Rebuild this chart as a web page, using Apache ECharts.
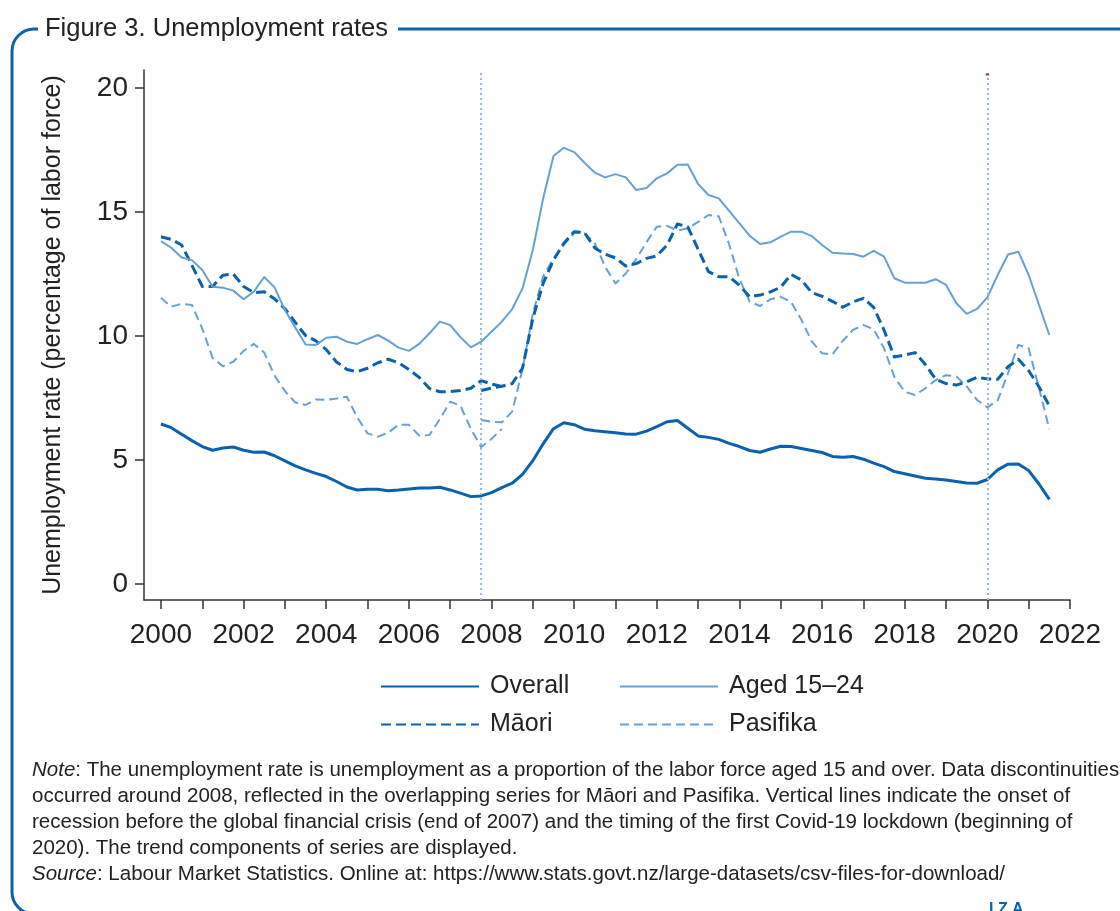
<!DOCTYPE html>
<html>
<head>
<meta charset="utf-8">
<title>Figure 3. Unemployment rates</title>
<script src="https://cdn.jsdelivr.net/npm/echarts@6/dist/echarts.min.js"></script>
<style>
  html, body { margin: 0; padding: 0; background: #fff; }
  #chart { width: 1120px; height: 911px; }
</style>
</head>
<body>
<div id="chart"></div>
<script>
// Quarterly trend series, first observation 2000 Q1
const startYear = 2000;
const xTicks = [2000,2001,2002,2003,2004,2005,2006,2007,2008,2009,2010,2011,2012,2013,2014,2015,2016,2017,2018,2019,2020,2021,2022];
const xLabels = [2000,2002,2004,2006,2008,2010,2012,2014,2016,2018,2020,2022];
const yTicks = [0, 5, 10, 15, 20];
const eventYears = [2007.75, 2020];

const overall = [
  6.45, 6.30, 6.04, 5.78, 5.54, 5.39, 5.48, 5.52, 5.39, 5.31,
  5.32, 5.17, 4.96, 4.76, 4.60, 4.46, 4.33, 4.13, 3.91, 3.79,
  3.82, 3.82, 3.76, 3.79, 3.83, 3.87, 3.87, 3.90, 3.79, 3.66,
  3.52, 3.55, 3.68, 3.88, 4.06, 4.42, 4.97, 5.65, 6.26, 6.50,
  6.42, 6.24, 6.18, 6.14, 6.10, 6.05, 6.04, 6.16, 6.34, 6.54,
  6.59, 6.28, 5.97, 5.91, 5.83, 5.67, 5.54, 5.38, 5.31, 5.44,
  5.55, 5.54, 5.46, 5.38, 5.30, 5.14, 5.11, 5.14, 5.03, 4.87,
  4.73, 4.53, 4.44, 4.35, 4.26, 4.23, 4.19, 4.13, 4.07, 4.06,
  4.21, 4.60, 4.83, 4.84, 4.57, 4.03, 3.41
];
const aged1524 = [
  13.83, 13.56, 13.17, 13.06, 12.66, 11.99, 11.95, 11.83, 11.48, 11.79,
  12.38, 11.96, 11.05, 10.34, 9.66, 9.64, 9.93, 9.97, 9.77, 9.68,
  9.87, 10.04, 9.81, 9.53, 9.40, 9.68, 10.11, 10.58, 10.44, 9.95,
  9.54, 9.77, 10.17, 10.58, 11.08, 11.92, 13.47, 15.55, 17.26, 17.59,
  17.42, 16.99, 16.59, 16.40, 16.53, 16.40, 15.89, 15.97, 16.36, 16.56,
  16.91, 16.92, 16.13, 15.69, 15.55, 15.05, 14.54, 14.04, 13.71, 13.78,
  14.01, 14.21, 14.21, 14.03, 13.67, 13.36, 13.33, 13.31, 13.20, 13.43,
  13.20, 12.33, 12.15, 12.15, 12.15, 12.29, 12.06, 11.32, 10.89, 11.09,
  11.56, 12.46, 13.29, 13.40, 12.46, 11.25, 10.04
];
// Ethnic series come in two overlapping runs (break around 2008)
const maoriOldStart = 0;
const maoriOld = [
  14.00, 13.90, 13.67, 12.85, 12.00, 12.00, 12.45, 12.50, 12.00, 11.75,
  11.78, 11.50, 11.10, 10.55, 10.02, 9.80, 9.45, 8.95, 8.65, 8.56,
  8.70, 8.92, 9.06, 8.92, 8.65, 8.33, 7.88, 7.75, 7.76, 7.80,
  7.89, 8.20, 8.06, 7.96
];
const maoriNewStart = 31;
const maoriNew = [
  7.80, 7.90, 7.97, 8.08, 8.70, 10.71, 12.12, 13.06, 13.74, 14.21,
  14.17, 13.55, 13.30, 13.15, 12.82, 12.92, 13.13, 13.23, 13.67, 14.52,
  14.40, 13.50, 12.60, 12.39, 12.39, 12.05, 11.58, 11.65, 11.78, 11.97,
  12.48, 12.26, 11.75, 11.60, 11.40, 11.16, 11.38, 11.52, 11.15, 10.24,
  9.15, 9.23, 9.33, 8.85, 8.25, 8.08, 8.02, 8.15, 8.33, 8.27,
  8.25, 8.76, 9.06, 8.60, 7.95, 7.18
];
const pasifikaOldStart = 0;
const pasifikaOld = [
  11.54, 11.18, 11.30, 11.25, 10.30, 9.12, 8.78, 8.96, 9.40, 9.68,
  9.33, 8.40, 7.78, 7.32, 7.22, 7.44, 7.42, 7.48, 7.55, 6.72,
  6.07, 5.94, 6.10, 6.42, 6.42, 5.98, 6.01, 6.65, 7.35, 7.18,
  6.25, 5.52, 5.85, 6.25
];
const pasifikaNewStart = 31;
const pasifikaNew = [
  6.61, 6.54, 6.52, 6.95, 8.65, 10.90, 12.40, 13.13, 13.68, 14.15,
  14.15, 13.75, 12.79, 12.12, 12.52, 13.10, 13.78, 14.41, 14.44, 14.25,
  14.35, 14.60, 14.88, 14.83, 13.70, 12.30, 11.38, 11.21, 11.48, 11.58,
  11.38, 10.65, 9.78, 9.30, 9.26, 9.80, 10.25, 10.44, 10.27, 9.50,
  8.35, 7.75, 7.62, 7.89, 8.22, 8.42, 8.37, 7.97, 7.42, 7.12,
  7.40, 8.50, 9.64, 9.50, 7.90, 6.24
];

const noteLines = [
  '{i|Note}: The unemployment rate is unemployment as a proportion of the labor force aged 15 and over. Data discontinuities',
  'occurred around 2008, reflected in the overlapping series for Māori and Pasifika. Vertical lines indicate the onset of',
  'recession before the global financial crisis (end of 2007) and the timing of the first Covid-19 lockdown (beginning of',
  '2020). The trend components of series are displayed.',
  '{i|Source}: Labour Market Statistics. Online at: https://www.stats.govt.nz/large-datasets/csv-files-for-download/'
];

const DARK = '#0a62ae';
const LIGHT = '#66a1d6';
const EVENT = '#93bce3';
const TEXT = '#222222';
const FONT = '"Liberation Sans", Arial, sans-serif';

// pair each value with its quarter position on the time axis
function toPoints(values, offset) {
  return values.map((v, i) => [startYear + (offset + i) / 4, v]);
}

function lineSeries(name, values, offset, color, width, dash, extra) {
  return Object.assign({
    name: name,
    type: 'line',
    data: toPoints(values, offset),
    symbol: 'none',
    showSymbol: false,
    smooth: false,
    silent: true,
    animation: false,
    color: color,
    lineStyle: { color: color, width: width, type: dash, cap: 'butt', join: 'round' },
    z: 3
  }, extra || {});
}

const chart = echarts.init(document.getElementById('chart'), null, { renderer: 'canvas' });

const legendBase = {
  orient: 'horizontal',
  padding: 0,
  itemWidth: 98,
  itemHeight: 14,
  itemGap: 0,
  selectedMode: false,
  itemStyle: { opacity: 0, borderWidth: 0 },
  textStyle: { fontFamily: FONT, fontSize: 25, color: TEXT, padding: [0, 0, 0, 6] }
};

chart.setOption({
  backgroundColor: '#ffffff',
  animation: false,
  textStyle: { fontFamily: FONT },
  grid: { left: 144, right: 50, top: 70, bottom: 311, containLabel: false },
  xAxis: {
    type: 'value',
    min: 1999.59,
    max: 2022,
    axisLine: { show: true, onZero: false, lineStyle: { color: '#333', width: 1.5 } },
    axisTick: { show: true, customValues: xTicks, length: 9, lineStyle: { color: '#333', width: 1.5 } },
    axisLabel: { customValues: xLabels, fontSize: 28, color: TEXT, margin: 21, fontFamily: FONT, formatter: v => String(v) },
    splitLine: { show: false }
  },
  yAxis: {
    type: 'value',
    min: -0.65,
    max: 20.73,
    name: 'Unemployment rate (percentage of labor force)',
    nameLocation: 'middle',
    nameGap: 78,
    nameTextStyle: { fontSize: 25, color: TEXT, fontFamily: FONT },
    axisLine: { show: true, onZero: false, lineStyle: { color: '#333', width: 1.5 } },
    axisTick: { show: true, customValues: yTicks, length: 9, lineStyle: { color: '#333', width: 1.5 } },
    axisLabel: { customValues: yTicks, fontSize: 28, color: TEXT, margin: 16, fontFamily: FONT },
    splitLine: { show: false }
  },
  legend: [
    Object.assign({}, legendBase, { data: ['Overall'], left: 380, top: 674 }),
    Object.assign({}, legendBase, { data: ['Aged 15–24'], left: 619, top: 674 }),
    Object.assign({}, legendBase, { data: ['Māori'], left: 380, top: 712 }),
    Object.assign({}, legendBase, { data: ['Pasifika'], left: 619, top: 712 })
  ],
  title: {
    left: 27,
    top: 752,
    text: noteLines.join('\n'),
    textStyle: {
      fontFamily: FONT,
      fontSize: 20.5,
      fontWeight: 'normal',
      color: TEXT,
      lineHeight: 26,
      rich: { i: { fontStyle: 'italic', fontFamily: FONT, fontSize: 20.5, color: TEXT, lineHeight: 26 } }
    }
  },
  graphic: [
    {
      type: 'rect',
      silent: true,
      shape: { x: 12, y: 29, width: 1200, height: 885, r: 22 },
      style: { fill: 'none', stroke: DARK, lineWidth: 3 },
      z: 0
    },
    {
      type: 'rect',
      silent: true,
      shape: { x: 38, y: 10, width: 360, height: 38 },
      style: { fill: '#ffffff' },
      z: 1
    },
    {
      type: 'text',
      silent: true,
      left: 45,
      top: 16,
      style: { text: 'Figure 3. Unemployment rates', font: '25.5px ' + FONT, fill: TEXT },
      z: 2
    },
    {
      type: 'text',
      silent: true,
      left: 989,
      top: 902,
      style: { text: 'I Z A', font: 'bold 16px ' + FONT, fill: DARK },
      z: 2
    }
  ],
  series: [
    lineSeries('Pasifika', pasifikaOld, pasifikaOldStart, LIGHT, 2, [9, 5]),
    lineSeries('Pasifika', pasifikaNew, pasifikaNewStart, LIGHT, 2, [9, 5]),
    lineSeries('Māori', maoriOld, maoriOldStart, DARK, 3, [10, 5]),
    lineSeries('Māori', maoriNew, maoriNewStart, DARK, 3, [10, 5]),
    lineSeries('Aged 15–24', aged1524, 0, LIGHT, 2, 'solid'),
    lineSeries('Overall', overall, 0, DARK, 3, 'solid', {
      markLine: {
        silent: true,
        symbol: ['none', 'none'],
        label: { show: false },
        animation: false,
        lineStyle: { color: EVENT, width: 2, type: [2, 3] },
        data: eventYears.map(y => ({ xAxis: y }))
      },
      markPoint: {
        silent: true,
        symbol: 'rect',
        symbolSize: [3, 2],
        label: { show: false },
        itemStyle: { color: '#c0143c' },
        data: [{ coord: [eventYears[1], 20.55] }]
      }
    })
  ]
});
</script>
</body>
</html>
